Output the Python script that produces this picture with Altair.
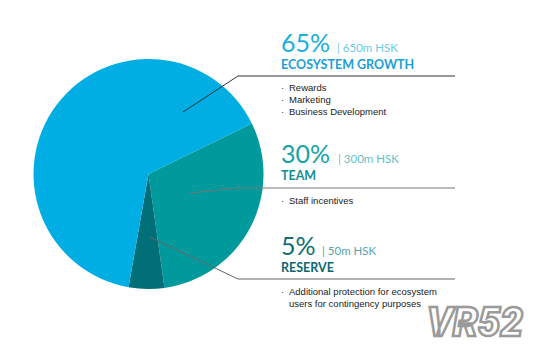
import altair as alt
import pandas as pd
import math

# ---- data ----
categories = ["Team", "Reserve", "Ecosystem Growth"]
shares = [30, 5, 65]
order = [1, 2, 3]
slice_colors = ["#00999C", "#006F78", "#00AEE4"]

pct_labels = ["65%", "30%", "5%"]
amount_labels = ["| 650m HSK", "| 300m HSK", "| 50m HSK"]
group_names = ["ECOSYSTEM GROWTH", "TEAM", "RESERVE"]
bullets = [
    ["Rewards", "Marketing", "Business Development"],
    ["Staff incentives"],
    ["Additional protection for ecosystem\nusers for contingency purposes"],
]
pct_colors = ["#1AAEE0", "#17A3A6", "#0E6E76"]
name_colors = ["#1A9FD6", "#138F93", "#0E6870"]
amount_colors = ["#6CC8EA", "#66BFC2", "#5AA3A9"]

df = pd.DataFrame({"category": categories, "share": shares, "order": order})

start = math.radians(64)

W, H = 550, 354
cx, cy, r = 148.5, 174, 115

pie = alt.Chart(df).mark_arc(stroke=None).encode(
    theta=alt.Theta("share:Q", stack=True,
                    scale=alt.Scale(range=[start, start + 2 * math.pi])),
    order=alt.Order("order:Q"),
    color=alt.Color("category:N", scale=alt.Scale(domain=categories, range=slice_colors), legend=None),
    x=alt.value(cx), y=alt.value(cy), radius=alt.value(r),
)

layers = [pie]

# layout (positions only)
text_x = 281
amount_x = [337, 338, 322]
pct_base = [52, 163, 255]
name_base = [69, 180, 272]
bullet_base = [[91, 103, 115], [204], [295]]
line_gap = 11.5
leaders = [
    [(183, 112), (238, 76), (455, 76), "#333333"],
    [(190, 193), (238, 188), (455, 188), "#777777"],
    [(150, 237), (238, 279), (455, 279), "#666666"],
]

base = alt.Chart(pd.DataFrame({"a": [0]}))

for i in range(3):
    layers.append(base.mark_text(align="left", baseline="alphabetic", font="Lato", fontSize=25,
                                 color=pct_colors[i], text=pct_labels[i])
                  .encode(x=alt.value(text_x), y=alt.value(pct_base[i])))
    layers.append(base.mark_text(align="left", baseline="alphabetic", font="Lato", fontSize=11.5,
                                 color=amount_colors[i], text=amount_labels[i])
                  .encode(x=alt.value(amount_x[i]), y=alt.value(pct_base[i])))
    layers.append(base.mark_text(align="left", baseline="alphabetic", font="Lato", fontSize=12.5,
                                 fontWeight="bold", color=name_colors[i], text=group_names[i])
                  .encode(x=alt.value(text_x), y=alt.value(name_base[i])))
    for j, b in enumerate(bullets[i]):
        yb = bullet_base[i][j]
        layers.append(base.mark_text(align="left", baseline="alphabetic", font="Liberation Sans",
                                     fontSize=9.5, color="#333333", text="·")
                      .encode(x=alt.value(text_x), y=alt.value(yb)))
        layers.append(base.mark_text(align="left", baseline="alphabetic", font="Liberation Sans",
                                     fontSize=9.5, color="#222222", lineBreak="\n",
                                     lineHeight=line_gap, text=b)
                      .encode(x=alt.value(text_x + 8), y=alt.value(yb)))
    (p0, p1, p2, col) = leaders[i]
    layers.append(base.mark_rule(color=col, strokeWidth=1)
                  .encode(x=alt.value(p0[0]), y=alt.value(p0[1]), x2=alt.value(p1[0]), y2=alt.value(p1[1])))
    layers.append(base.mark_rule(color=col, strokeWidth=1.2)
                  .encode(x=alt.value(p1[0]), y=alt.value(p1[1]), x2=alt.value(p2[0]), y2=alt.value(p2[1])))

# watermark
layers.append(base.mark_text(align="left", baseline="alphabetic", font="Roboto", fontSize=40,
                             fontWeight=900, fontStyle="italic", fill="white", stroke="#9a9a9a",
                             strokeWidth=2.5, text="VR52")
              .encode(x=alt.value(427), y=alt.value(336)))

chart = alt.layer(*layers).properties(
    width=W, height=H, padding=0, autosize=alt.AutoSizeParams(type="none"),
    background="white"
).configure_view(stroke=None)

chart.save("out.html", embed_options={"renderer": "svg", "actions": False})
